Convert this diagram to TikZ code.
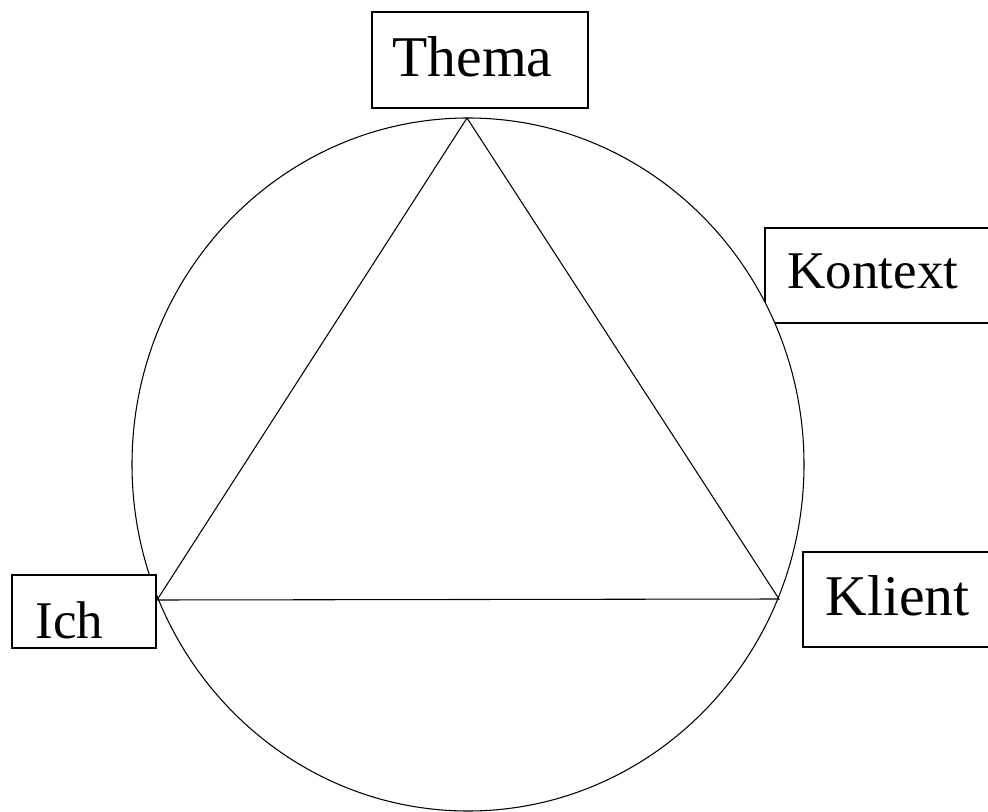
\documentclass[tikz,border=0pt]{standalone}
\usepackage{fontspec}
\setmainfont{Liberation Serif}
\begin{document}
\begin{tikzpicture}[x=0.75pt,y=-0.75pt,line width=0.8pt,
  box/.style={draw,fill=white,rectangle,inner sep=0pt},
  bigtxt/.style={anchor=base west,inner sep=0pt,font=\fontsize{43.2pt}{50pt}\selectfont},
  smalltxt/.style={anchor=base west,inner sep=0pt,font=\fontsize{39.75pt}{46pt}\selectfont}]
\clip (0,0) rectangle (988,812);
\useasboundingbox (0,0) rectangle (988,812);
% Kontext box lies behind the circle
\node[box,minimum width=176.25pt,minimum height=71.25pt] (kobox) at (882.5,275.5) {};
\node[smalltxt] (kontext) at (787,289) {Kontext};
% circle (slightly elliptic), filled white
\draw[fill=white] (468,464.5) ellipse [x radius=336, y radius=346.5];
% triangle
\coordinate (T) at (467,118);
\coordinate (L) at (157,600);
\coordinate (R) at (779,599);
\draw (T) -- (L) -- (R) -- cycle;
% boxes in front
\node[box,minimum width=162pt,minimum height=72pt] (thbox) at (480,60) {};
\node[box,minimum width=108pt,minimum height=54.75pt] (ichbox) at (84,611.5) {};
\node[box,minimum width=147.75pt,minimum height=71.25pt] (klbox) at (901.5,599.5) {};
% texts
\node[bigtxt] (thema) at (392,77) {Thema};
\node[smalltxt] (ich) at (35,638) {Ich};
\node[bigtxt] (klient) at (825,615) {Klient};
\end{tikzpicture}
\end{document}
